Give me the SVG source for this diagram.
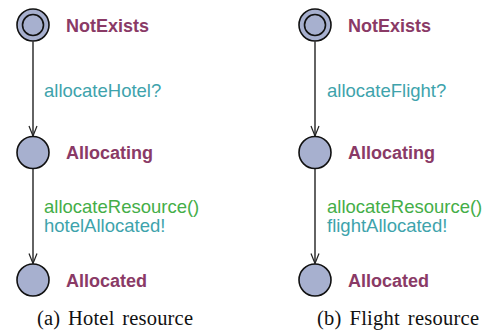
<svg xmlns="http://www.w3.org/2000/svg" width="488" height="333" viewBox="0 0 488 333">
  <defs>
    <marker id="arrow" viewBox="0 0 12 10" refX="11" refY="5" markerWidth="12" markerHeight="10" markerUnits="userSpaceOnUse" orient="auto">
      <path d="M1,1 L11,5 L1,9" fill="none" stroke="#222" stroke-width="1.2"/>
    </marker>
    <style>
      .loc { fill: #a7b0cf; stroke: #111; stroke-width: 1.6; }
      .ring { fill: none; stroke: #111; stroke-width: 1.6; }
      .name { font-family: "Liberation Sans", Arial, sans-serif; font-weight: bold; font-size: 18px; fill: #8a3a66; }
      .sync { font-family: "Liberation Sans", Arial, sans-serif; font-size: 18.5px; fill: #3ea3ac; }
      .upd { font-family: "Liberation Sans", Arial, sans-serif; font-size: 18.5px; fill: #44ae48; }
      .edge { stroke: #222; stroke-width: 1.4; fill: none; marker-end: url(#arrow); }
      .caption { font-family: "Liberation Serif", "Times New Roman", serif; font-size: 20.5px; fill: #111; word-spacing: 2.5px; }
    </style>
  </defs>

  <!-- transitions -->
  <g id="connectors">
    <line class="edge" x1="33" y1="41.5" x2="33" y2="136"/>
    <line class="edge" x1="33" y1="169" x2="33" y2="263.5"/>
    <line class="edge" x1="315" y1="41.5" x2="315" y2="136"/>
    <line class="edge" x1="315" y1="169" x2="315" y2="263.5"/>
    <text class="sync" x="44" y="97">allocateHotel?</text>
    <text class="upd" x="44" y="213">allocateResource()</text>
    <text class="sync" x="44" y="232">hotelAllocated!</text>
    <text class="sync" x="327" y="97">allocateFlight?</text>
    <text class="upd" x="327" y="213">allocateResource()</text>
    <text class="sync" x="327" y="232">flightAllocated!</text>
  </g>

  <!-- hotel automaton -->
  <g id="hotel-notexists">
    <circle class="loc" cx="33" cy="25" r="16"/>
    <circle class="ring" cx="33" cy="25" r="10.5"/>
    <text class="name" x="66" y="32">NotExists</text>
  </g>
  <g id="hotel-allocating">
    <circle class="loc" cx="33" cy="152.5" r="16"/>
    <text class="name" x="66" y="159">Allocating</text>
  </g>
  <g id="hotel-allocated">
    <circle class="loc" cx="33" cy="280" r="16"/>
    <text class="name" x="66" y="287">Allocated</text>
  </g>

  <!-- flight automaton -->
  <g id="flight-notexists">
    <circle class="loc" cx="315" cy="25" r="16"/>
    <circle class="ring" cx="315" cy="25" r="10.5"/>
    <text class="name" x="348" y="32">NotExists</text>
  </g>
  <g id="flight-allocating">
    <circle class="loc" cx="315" cy="152.5" r="16"/>
    <text class="name" x="348" y="159">Allocating</text>
  </g>
  <g id="flight-allocated">
    <circle class="loc" cx="315" cy="280" r="16"/>
    <text class="name" x="348" y="287">Allocated</text>
  </g>

  <g id="captions">
    <text class="caption" x="37" y="325" textLength="156" lengthAdjust="spacing">(a) Hotel resource</text>
    <text class="caption" x="317" y="325" textLength="162" lengthAdjust="spacing">(b) Flight resource</text>
  </g>
</svg>
